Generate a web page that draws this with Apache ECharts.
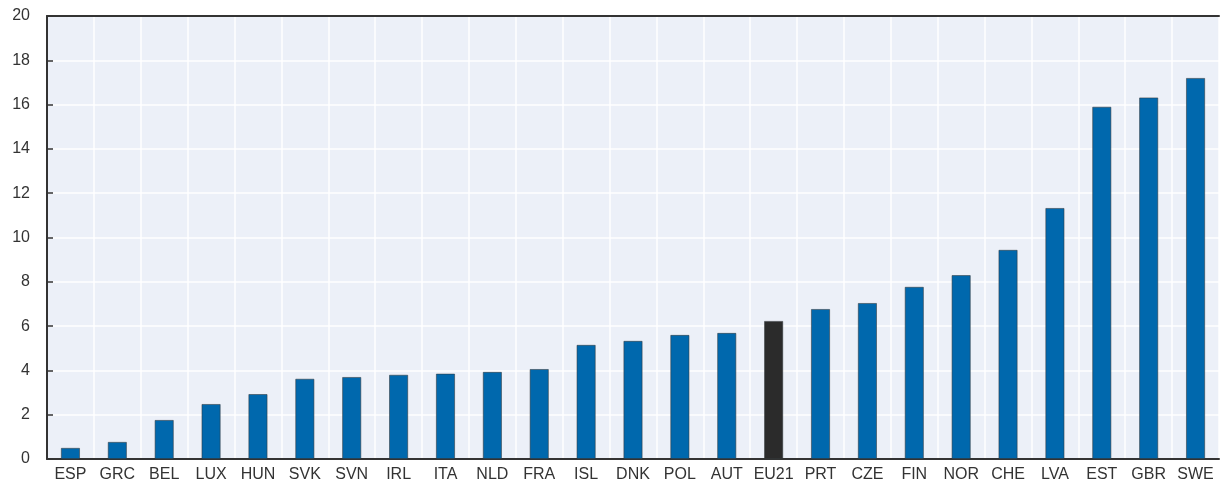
<!DOCTYPE html>
<html>
<head>
<meta charset="utf-8">
<script src="https://cdn.jsdelivr.net/npm/echarts@6/dist/echarts.min.js"></script>
<style>
  html, body { margin: 0; padding: 0; background: #fff; }
  #chart { width: 1221px; height: 486px; }
</style>
</head>
<body>
<div id="chart"></div>
<script>
const countries = ["ESP", "GRC", "BEL", "LUX", "HUN", "SVK", "SVN", "IRL", "ITA", "NLD", "FRA", "ISL", "DNK", "POL", "AUT", "EU21", "PRT", "CZE", "FIN", "NOR", "CHE", "LVA", "EST", "GBR", "SWE"];
const values = [0.5, 0.77, 1.76, 2.48, 2.93, 3.62, 3.7, 3.8, 3.85, 3.93, 4.06, 5.15, 5.33, 5.6, 5.69, 6.23, 6.77, 7.04, 7.77, 8.3, 9.44, 11.33, 15.9, 16.32, 17.2];
const highlight = "EU21";

const blue = "#0068ad";
const dark = "#2b2b2b";
const axisCol = "#333";

const chart = echarts.init(document.getElementById("chart"));
chart.setOption({
  backgroundColor: "#fff",
  animation: false,
  textStyle: { fontFamily: "Liberation Sans, Arial, sans-serif" },
  grid: {
    left: 47, right: 2, top: 16, bottom: 27,
    show: true, backgroundColor: "#ecf0f8", borderWidth: 0
  },
  xAxis: [
    {
      type: "category",
      data: countries,
      axisLine: { lineStyle: { color: axisCol, width: 2 } },
      axisTick: { inside: true, length: 6, lineStyle: { color: axisCol, width: 1.5 } },
      axisLabel: { color: axisCol, fontSize: 16, margin: 8, interval: 0 },
      splitLine: { show: true, interval: 0, lineStyle: { color: "#fff", width: 1.5 } }
    },
    {
      type: "category",
      position: "top",
      data: countries,
      axisLine: { lineStyle: { color: axisCol, width: 2 } },
      axisTick: { show: false },
      axisLabel: { show: false }
    }
  ],
  yAxis: {
    type: "value",
    min: 0, max: 20, interval: 2,
    axisLine: { show: true, lineStyle: { color: axisCol, width: 2 } },
    axisTick: { show: true, inside: true, length: 6, lineStyle: { color: axisCol, width: 1.5 } },
    axisLabel: { color: axisCol, fontSize: 16, margin: 17 },
    splitLine: { lineStyle: { color: "#fff", width: 1.5 } }
  },
  series: [{
    type: "bar",
    barWidth: 19,
    data: values.map((v, i) => ({
      value: v,
      itemStyle: { color: countries[i] === highlight ? dark : blue }
    })),
    itemStyle: { borderColor: "rgba(50,55,60,0.7)", borderWidth: 0.8 }
  }]
});
</script>
</body>
</html>
